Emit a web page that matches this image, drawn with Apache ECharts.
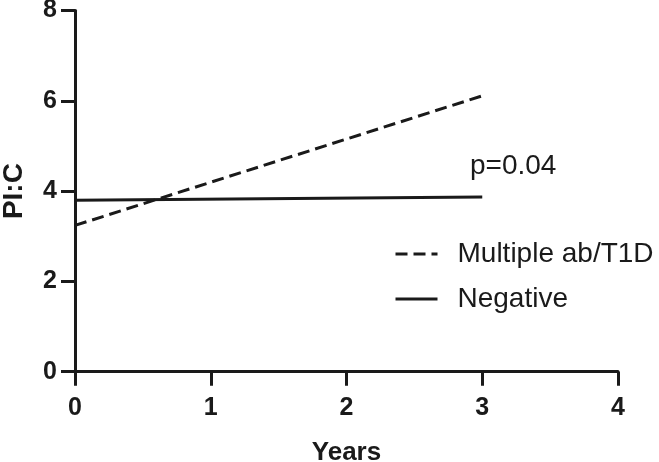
<!DOCTYPE html>
<html>
<head>
<meta charset="utf-8">
<style>html,body{margin:0;padding:0;background:#fff}#c{width:659px;height:462px}</style>
<script src="https://cdn.jsdelivr.net/npm/echarts@6/dist/echarts.min.js"></script>
</head>
<body>
<div id="c"></div>
<script>
var years = [0, 3];
var multipleAb = [3.24, 6.11];
var negative = [3.80, 3.87];
var seriesNames = ['Multiple ab/T1D', 'Negative'];
var pText = 'p=0.04';

var ink = '#1a1a1a';
var font = 'Liberation Sans, Arial, sans-serif';
function pts(xs, ys){ return xs.map(function(x,i){ return [x, ys[i]]; }); }

var chart = echarts.init(document.getElementById('c'));
chart.setOption({
  animation: false,
  backgroundColor: '#fff',
  textStyle: {fontFamily: font},
  grid: {left: 75, right: 41, top: 10.5, bottom: 90.3, containLabel: false, outerBoundsMode: 'none'},
  xAxis: {
    type: 'value', min: 0, max: 4, interval: 1,
    name: 'Years', nameLocation: 'middle', nameGap: 68,
    nameTextStyle: {fontFamily: font, fontSize: 26, fontWeight: 'bold', color: ink},
    axisLine: {show: true, lineStyle: {color: ink, width: 3}},
    axisTick: {show: true, length: 14, lineStyle: {color: ink, width: 3}},
    axisLabel: {margin: 24, fontFamily: font, fontSize: 25, fontWeight: 'bold', color: ink},
    splitLine: {show: false}
  },
  yAxis: {
    type: 'value', min: 0, max: 8, interval: 2,
    name: 'PI:C', nameLocation: 'middle', nameGap: 47, nameRotate: 90,
    nameTextStyle: {fontFamily: font, fontSize: 28, fontWeight: 'bold', color: ink},
    axisLine: {show: true, lineStyle: {color: ink, width: 3}},
    axisTick: {show: true, length: 14, lineStyle: {color: ink, width: 3}},
    axisLabel: {margin: 18, fontFamily: font, fontSize: 25, fontWeight: 'bold', color: ink},
    splitLine: {show: false}
  },
  legend: {
    orient: 'vertical', left: 389, top: 234,
    itemWidth: 42, itemHeight: 30, itemGap: 15,
    data: seriesNames,
    itemStyle: {color: 'rgba(0,0,0,0)', borderWidth: 0, opacity: 0},
    lineStyle: {width: 3},
    textStyle: {fontFamily: font, fontSize: 28, color: ink, lineHeight: 30, padding: [0,0,0,15]}
  },
  graphic: [{
    type: 'text', left: 470, top: 152,
    style: {text: pText, font: '28px ' + font, fill: ink}
  }],
  series: [
    {name: seriesNames[0], type: 'line', data: pts(years, multipleAb), symbol: 'none',
     lineStyle: {color: ink, width: 3, type: [12, 6]}, itemStyle: {color: ink}},
    {name: seriesNames[1], type: 'line', data: pts(years, negative), symbol: 'none',
     lineStyle: {color: ink, width: 3}, itemStyle: {color: ink}}
  ]
});
</script>
</body>
</html>
